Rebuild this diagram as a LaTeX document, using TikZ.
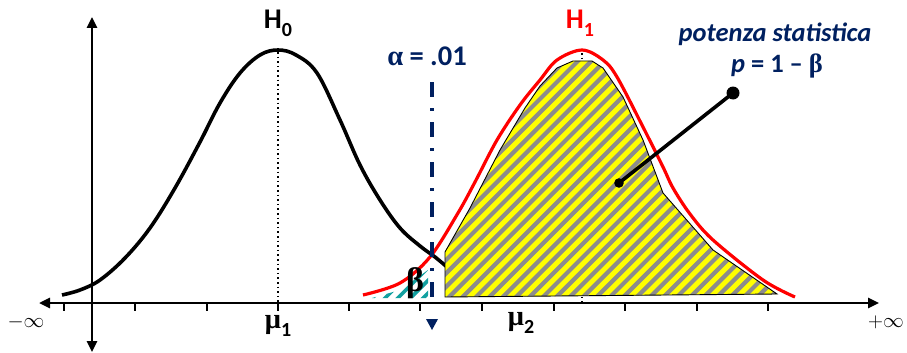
\documentclass[tikz,border=0pt]{standalone}
\usepackage{fontspec}
\setmainfont{Carlito}
\newfontfamily\grk{Liberation Serif}
\usetikzlibrary{arrows.meta}
\definecolor{navy}{HTML}{002060}
\definecolor{tealc}{HTML}{12A0A0}
\definecolor{yel}{HTML}{FFFF00}
\definecolor{stripe}{HTML}{8C8C8C}
\definecolor{hred}{HTML}{FF0000}
\newcommand\mysubs[1]{\raisebox{-0.28em}{\fontsize{20}{20}\selectfont #1}}
\tikzset{
  axisline/.style={line width=2.6pt,-{Triangle[length=11pt,width=10pt]}},
  tickmark/.style={line width=2.6pt},
  curveH0/.style={line width=3.6pt,black},
  curveH1/.style={line width=3.2pt,hred},
  dotline/.style={line width=1.6pt,dash pattern=on 1.6pt off 3pt},
  alphaline/.style={line width=3.6pt,navy,dash pattern=on 15pt off 11pt on 3pt off 11pt},
  graystripe/.style={line width=4.2pt,stripe},
  tealstripe/.style={line width=3.6pt,tealc},
  bigtxt/.style={font=\fontsize{28.5}{28}\selectfont\bfseries,inner sep=0pt},
  navytxt/.style={font=\fontsize{26.5}{28}\selectfont\bfseries\itshape,text=navy,inner sep=0pt,align=center},
  inftxt/.style={font=\fontsize{20}{20}\selectfont,inner sep=0pt},
}
\begin{document}
\begin{tikzpicture}[x=1pt,y=-1pt]
\useasboundingbox (0,0) rectangle (907,353);

% axes
\coordinate (xm) at (92,303);
\coordinate (xl) at (39,303);
\coordinate (xr) at (879,303);
\coordinate (yt) at (92,17);
\coordinate (yb) at (92,352);
\draw[axisline] (xm) -- (xl);
\draw[axisline] (xm) -- (xr);
\draw[axisline] (xm) -- (yt);
\draw[axisline] (xm) -- (yb);
\foreach \tx in {64,135,207,278,349,420,482,554,625,697,768}
  \draw[tickmark] (\tx,302) -- (\tx,311);

% dotted means
\coordinate (m1top) at (278,52);
\coordinate (m1bot) at (278,303);
\draw[dotline] (m1top) -- (m1bot);
\coordinate (m2top) at (582,53);
\coordinate (m2bot) at (582,303);
\draw[dotline] (m2top) -- (m2bot);

% H0 curve
\draw[curveH0] plot[smooth,tension=0.6] coordinates {(62,295) (80,290) (100,280) (125,258) (150,228) (175,188) (200,142) (220,103) (240,73) (260,55) (278,50) (296,55) (317,73) (340,120) (360,165) (380,200) (400,228) (420,246) (435,257) (447,267)};

% beta region
\begin{scope}
  \clip (372,298) -- (400,290) -- (428,270) -- (428,298) -- cycle;
  \foreach \k in {340,352.7,...,440}
    \draw[tealstripe] (\k,305) -- ++(50,-50);
\end{scope}

% power polygon
\def\powpoly{(445,297) -- (445,252) -- (470,208) -- (500,150) -- (525,108) -- (540,86) -- (557,68) -- (573,61) -- (592,61) -- (603,68) -- (623,97) -- (643,140) -- (663,193) -- (713,250) -- (777,294) -- cycle}
\fill[yel] \powpoly;
\begin{scope}
  \clip \powpoly;
  \foreach \k in {200,213.4,...,790}
    \draw[graystripe] (\k,305) -- ++(260,-260);
\end{scope}
\draw[line width=0.9pt] \powpoly;

% H1 curve
\draw[curveH1] plot[smooth,tension=0.55] coordinates {(363,295) (400,283) (430,257) (458,213) (475,182) (497,140) (520,105) (540,80) (557,60) (582,50) (603,60) (617,77) (643,127) (663,167) (673,188) (690,214) (713,240) (763,280) (795,297)};

% alpha line
\coordinate (atop) at (432,82);
\coordinate (abot) at (432,303);
\draw[alphaline] (atop) -- (abot);
\fill[navy] (426,319) -- (438,319) -- (432,330) -- cycle;

% pointer
\coordinate (pa) at (733,93);
\coordinate (pb) at (619,183);
\draw[line width=3.6pt] (pa) -- (pb);
\fill (pa) circle (6.5pt);
\fill (pb) circle (4.8pt);

% labels
\node[bigtxt] (lh0) at (278,23) {H\mysubs{0}};
\node[bigtxt,text=hred] (lh1) at (580,23) {H\mysubs{1}};
\node[bigtxt,text=navy] (lalpha) at (427,56) {{\grk α} = .01};
\node[navytxt] (lpow) at (775,34) {potenza statistica};
\node[navytxt] (lp) at (777,66) {p \upshape= 1 – {\grk β}};
\node[font=\fontsize{34}{34}\selectfont\grk\bfseries,inner sep=0pt] (lbeta) at (415,283) {β};
\node[bigtxt] (lmu1) at (278,326) {{\grk μ}\mysubs{1}};
\node[bigtxt] (lmu2) at (521,323) {{\grk μ}\mysubs{2}};
\node[inftxt] (lminf) at (26,322) {$-\infty$};
\node[inftxt] (lpinf) at (886,322) {$+\infty$};
\end{tikzpicture}
\end{document}
